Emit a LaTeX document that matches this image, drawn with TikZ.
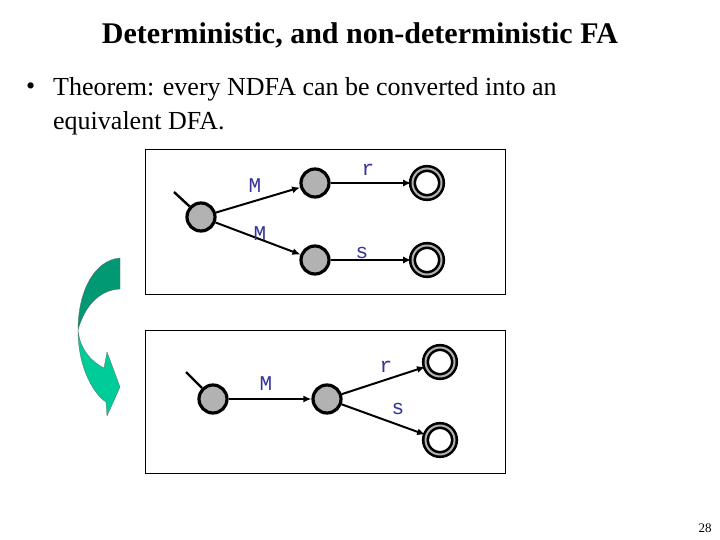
\documentclass[tikz,border=0pt]{standalone}
\usepackage{fontspec}
\setmainfont{Liberation Serif}
\newfontfamily\cour{Liberation Mono}
\usetikzlibrary{arrows.meta}
\definecolor{lab}{HTML}{333399}
\definecolor{dkg}{HTML}{009973}
\definecolor{ltg}{HTML}{00CC99}
\begin{document}
\begin{tikzpicture}[x=1pt,y=-1pt,
 st/.style={circle,draw=black,line width=3.2pt,fill=gray!60,minimum size=28pt,inner sep=0},
 fin/.style={circle,draw=black,line width=2.6pt,fill=white,minimum size=29pt,inner sep=0,
   double=gray!60,double distance=2pt},
 tr/.style={-{Latex[length=8pt,width=7pt]},line width=2pt},
 lb/.style={text=lab,font=\cour\fontsize{21}{21}\selectfont,inner sep=0},
 box/.style={draw=black,line width=1pt}]
\useasboundingbox (0,0) rectangle (720,540);
\node[font=\bfseries\fontsize{30}{32}\selectfont] (title) at (360,35) {Deterministic, and non-deterministic FA};
\node[anchor=west,font=\fontsize{26}{30}\selectfont,inner sep=0] (b) at (26,89) {\textbullet};
\node[anchor=west,font=\fontsize{26}{30}\selectfont,inner sep=0] (l1) at (53,89) {Theorem: every NDFA can be converted into an};
\node[anchor=west,font=\fontsize{26}{30}\selectfont,inner sep=0] (l2) at (53,123) {equivalent DFA.};
\node[font=\fontsize{13}{14}\selectfont] (pg) at (705,528) {28};
% top box
\draw[box] (145,150) rectangle (505,294);
\node[st] (a0) at (201,217) {};
\node[st] (a1) at (315,183) {};
\node[st] (a2) at (315,260) {};
\node[fin] (a3) at (427,183) {};
\node[fin] (a4) at (427,260) {};
\coordinate (as) at (174,192);
\draw[line width=2.4pt] (as) -- (a0);
\draw[tr] (a0) -- (a1);
\draw[tr] (a0) -- (a2);
\draw[tr] (a1) -- (a3);
\draw[tr] (a2) -- (a4);
\node[lb] (m1) at (255,186) {M};
\node[lb] (m2) at (260,234) {M};
\node[lb] (r1) at (368,170) {r};
\node[lb] (s1) at (362,253) {s};
% bottom box
\draw[box] (145,330) rectangle (505,473);
\node[st] (b0) at (213,399) {};
\node[st] (b1) at (327,399) {};
\node[fin] (b2) at (440,362) {};
\node[fin] (b3) at (440,440) {};
\coordinate (bs) at (186,372);
\draw[line width=2.4pt] (bs) -- (b0);
\draw[tr] (b0) -- (b1);
\draw[tr] (b1) -- (b2);
\draw[tr] (b1) -- (b3);
\node[lb] (m3) at (266,384) {M};
\node[lb] (r2) at (386,367) {r};
\node[lb] (s2) at (398,409) {s};
% curved arrow
\fill[dkg,draw=black!60,line width=0.3pt] (120,258) .. controls (95,260) and (78,290) .. (78,330)
  .. controls (85,305) and (100,290) .. (120,289) -- cycle;
\fill[ltg,draw=black!60,line width=0.3pt] (78,330) .. controls (78,370) and (95,395) .. (106,402)
  -- (107,416) -- (120,387) -- (107,352) -- (104,368) .. controls (92,362) and (80,350) .. (78,330) -- cycle;
\end{tikzpicture}
\end{document}
